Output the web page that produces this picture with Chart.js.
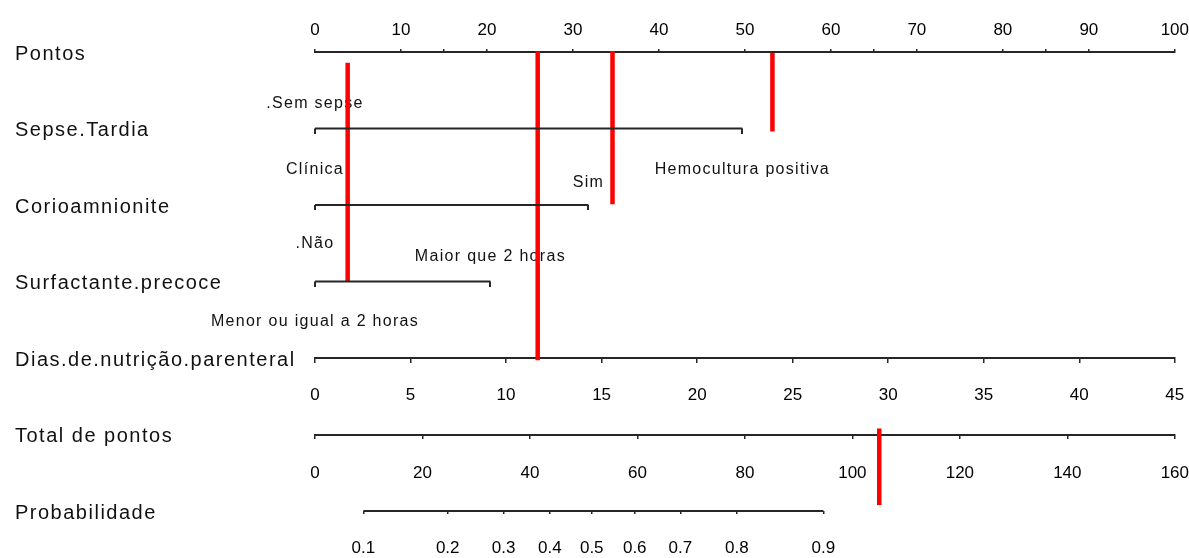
<!DOCTYPE html>
<html>
<head>
<meta charset="utf-8">
<script src="https://cdn.jsdelivr.net/npm/chart.js@4/dist/chart.umd.min.js"></script>
<style>
  html, body { margin: 0; padding: 0; background: #fff; }
  #wrap { width: 1189px; height: 558px; position: relative; }
</style>
</head>
<body>
<div id="wrap"><canvas id="nomograma"></canvas></div>
<script>
// ---- nomogram content ----
const rowNames = ['Pontos', 'Sepse.Tardia', 'Corioamnionite', 'Surfactante.precoce',
                  'Dias.de.nutrição.parenteral', 'Total de pontos', 'Probabilidade'];

// points scale (0-100) tick values
const pontosTicks = [0, 10, 20, 30, 40, 50, 60, 70, 80, 90, 100];
const pontosMinorTicks = [15, 65, 85];

// categorical predictors: score range in points
const sepseRange = [0, 49.7];
const corioRange = [0, 31.8];
const surfRange = [0, 20.4];

// level labels and the point score each one sits at
const levelLabels = ['.Sem sepse', 'Clínica', 'Hemocultura positiva', 'Sim', '.Não',
                     'Maior que 2 horas', 'Menor ou igual a 2 horas'];
const levelPoints = [0, 0, 49.7, 31.8, 0, 20.4, 0];

// continuous predictor: days of parenteral nutrition (0-45 maps onto 0-100 points)
const diasTicks = [0, 5, 10, 15, 20, 25, 30, 35, 40, 45];
const diasMax = 45;

// total points scale
const totalTicks = [0, 20, 40, 60, 80, 100, 120, 140, 160];
const totalMax = 160;

// probability scale: labels and the total points each one corresponds to
const probTicks = [0.1, 0.2, 0.3, 0.4, 0.5, 0.6, 0.7, 0.8, 0.9];
const probTotals = [9.0, 24.7, 35.1, 43.7, 51.5, 59.5, 68.0, 78.5, 94.6];

// example patient: points read for each predictor, and the resulting total
const patientPoints = [3.8, 25.9, 34.6, 53.2];
const patientTotal = 105;

// ---- layout (row index on the vertical scale) ----
const levelRows = [0.67, 1.54, 1.54, 1.71, 2.51, 2.68, 3.53];
const patientSpans = [[0.14, 3.0], [-0.01, 4.03], [-0.01, 1.99], [0.01, 1.04]];
const patientTotalSpan = [4.92, 5.92];

const FONT = "'Liberation Sans', Arial, Helvetica, sans-serif";
const AXIS = '#262626';

function tickMark(len) {
  // small downward tick used as a point marker at the ends of the factor lines
  const c = document.createElement('canvas');
  c.width = 2; c.height = len * 2;
  const g = c.getContext('2d');
  g.fillStyle = AXIS;
  g.fillRect(0, len, 2, len);
  return c;
}
const endTick = tickMark(5);

function seg(from, to, row) {
  return [{ x: from, y: row }, { x: to, y: row }];
}

const datasets = [];
// factor lines
[[sepseRange, 1], [corioRange, 2], [surfRange, 3]].forEach(([r, row]) => {
  datasets.push({ type: 'line', data: seg(r[0], r[1], row), borderColor: AXIS, borderWidth: 2,
                  pointRadius: 0, clip: false, xAxisID: 'x' });
});
datasets.push({
  type: 'scatter', xAxisID: 'x',
  data: [[sepseRange, 1], [corioRange, 2], [surfRange, 3]].flatMap(([r, row]) => seg(r[0], r[1], row)),
  pointStyle: endTick, pointRadius: 3, showLine: false, clip: false
});
// probability line on the total-points scale
datasets.push({ type: 'line', xAxisID: 'xProb', data: seg(probTotals[0], probTotals[probTotals.length - 1], 6),
                borderColor: AXIS, borderWidth: 2, pointRadius: 0, clip: false });
// red reading lines
patientPoints.forEach((p, i) => {
  datasets.push({ type: 'line', xAxisID: 'x',
                  data: [{ x: p, y: patientSpans[i][0] }, { x: p, y: patientSpans[i][1] }],
                  borderColor: '#ff0000', borderWidth: 4.5, pointRadius: 0, clip: false, borderCapStyle: 'butt' });
});
datasets.push({ type: 'line', xAxisID: 'xTot',
                data: [{ x: patientTotal, y: patientTotalSpan[0] }, { x: patientTotal, y: patientTotalSpan[1] }],
                borderColor: '#ff0000', borderWidth: 4.5, pointRadius: 0, clip: false, borderCapStyle: 'butt' });

// axes drawn along a row: labels sit below, their distance set through the label line height
function bottomAxis(row, min, max, values, labelGap, tl, labelFn, showBorder) {
  return {
    axis: 'x', type: 'linear', position: { y: row }, min, max,
    afterBuildTicks: s => { s.ticks = values.map(v => ({ value: v })); },
    ticks: { font: { family: FONT, size: 17, lineHeight: labelGap / 17 }, color: '#000', padding: 0,
             autoSkip: false, maxRotation: 0, callback: labelFn },
    grid: { drawOnChartArea: false, drawTicks: true, tickLength: tl, color: AXIS, lineWidth: 1.5 },
    border: { display: showBorder, color: AXIS, width: 2 }
  };
}

// row labels and level labels, drawn under the red lines
const textLayer = {
  id: 'nomogramText',
  beforeDatasetsDraw(chart) {
    const { ctx, scales: { x, y } } = chart;
    ctx.save();
    ctx.fillStyle = '#111';
    ctx.textBaseline = 'middle';
    ctx.textAlign = 'left';
    ctx.font = '20px ' + FONT;
    ctx.letterSpacing = '1.5px';
    rowNames.forEach((name, i) => ctx.fillText(name, 15, y.getPixelForValue(i) + 2));
    ctx.font = '16px ' + FONT;
    ctx.letterSpacing = '1.3px';
    ctx.textAlign = 'center';
    levelLabels.forEach((t, i) => ctx.fillText(t, x.getPixelForValue(levelPoints[i]), y.getPixelForValue(levelRows[i])));
    ctx.restore();
  }
};

new Chart(document.getElementById('nomograma'), {
  data: { datasets },
  options: {
    responsive: true, maintainAspectRatio: false, animation: false,
    layout: { padding: { left: 315, right: 14, top: 11, bottom: 47 } },
    plugins: { legend: { display: false }, tooltip: { enabled: false } },
    events: [],
    scales: {
      x: {
        type: 'linear', position: 'top', min: 0, max: 100,
        afterBuildTicks: s => {
          s.ticks = pontosTicks.concat(pontosMinorTicks).sort((a, b) => a - b).map(v => ({ value: v }));
        },
        ticks: { font: { family: FONT, size: 17, lineHeight: 38 / 17 }, color: '#000', padding: 0,
                 autoSkip: false, maxRotation: 0,
                 callback: v => pontosTicks.includes(v) ? String(v) : '' },
        grid: { drawOnChartArea: false, drawTicks: true, tickLength: 3, color: AXIS, lineWidth: 1.5 },
        border: { display: true, color: AXIS, width: 2 }
      },
      y: { type: 'linear', min: 0, max: 6, reverse: true, display: false },
      xDias: bottomAxis(4, 0, diasMax, diasTicks, 66, 4, v => String(v), true),
      xTot: bottomAxis(5, 0, totalMax, totalTicks, 72, 3, v => String(v), true),
      xProb: bottomAxis(6, 0, totalMax, probTotals, 68, 3, (v, i) => String(probTicks[i]), false)
    }
  },
  plugins: [textLayer]
});
</script>
</body>
</html>
